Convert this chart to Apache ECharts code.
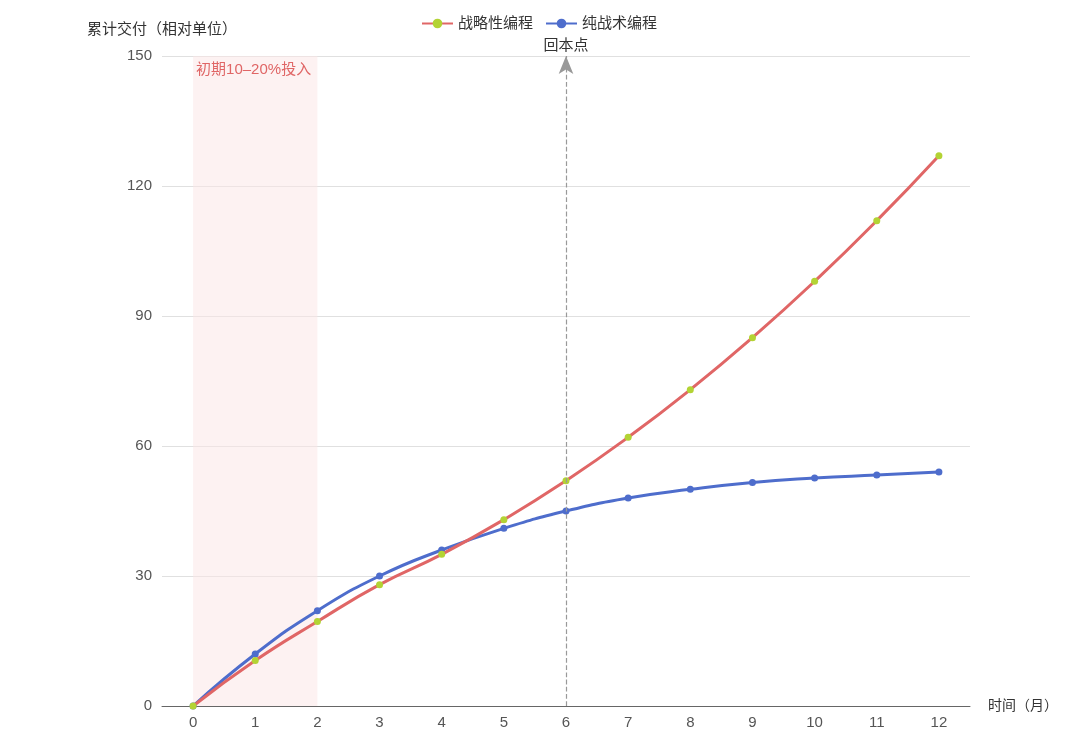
<!DOCTYPE html>
<html>
<head>
<meta charset="utf-8">
<script src="https://cdn.jsdelivr.net/npm/echarts@6/dist/echarts.min.js"></script>
<style>html,body{margin:0;padding:0;background:#fff;}#main{width:1078px;height:754px;}</style>
</head>
<body>
<div id="main"></div>
<script>
const months = ['0','1','2','3','4','5','6','7','8','9','10','11','12'];
const strategic = [0, 10.5, 19.5, 28, 35, 43, 52, 62, 73, 85, 98, 112, 127];
const tactical = [0, 12, 22, 30, 36, 41, 45, 48, 50, 51.6, 52.6, 53.3, 54];
const seriesNames = ['战略性编程', '纯战术编程'];
const yTicks = { min: 0, max: 150, interval: 30 };
const breakEvenMonth = '6';
const investStart = '0', investEnd = '2';

const FONT = '"Liberation Sans", "Noto Sans CJK SC", sans-serif';
const chart = echarts.init(document.getElementById('main'));
chart.setOption({
  animation: false,
  textStyle: { fontFamily: FONT },
  legend: {
    top: 11, left: 'center',
    itemGap: 12,
    itemWidth: 31,
    itemHeight: 12,
    textStyle: { fontSize: 15, color: '#333', fontFamily: FONT },
    data: seriesNames
  },
  grid: { left: 162, right: 108, top: 56, bottom: 48 },
  xAxis: {
    type: 'category',
    data: months,
    boundaryGap: true,
    name: '时间（月）',
    nameGap: 18,
    nameTextStyle: { fontSize: 14, color: '#333', fontFamily: FONT },
    axisLine: { lineStyle: { color: '#666' } },
    axisTick: { show: false },
    axisLabel: { fontSize: 15, color: '#555', margin: 9, fontFamily: FONT }
  },
  yAxis: {
    type: 'value',
    min: yTicks.min, max: yTicks.max, interval: yTicks.interval,
    name: '累计交付（相对单位）',
    nameGap: 19,
    nameTextStyle: { fontSize: 15, color: '#333', fontFamily: FONT },
    axisLine: { show: false },
    axisTick: { show: false },
    axisLabel: { fontSize: 15, color: '#555', margin: 10, fontFamily: FONT },
    splitLine: { lineStyle: { color: '#e0e0e0' } }
  },
  series: [
    {
      name: seriesNames[0],
      type: 'line',
      smooth: true,
      data: strategic,
      symbol: 'circle',
      symbolSize: 7,
      lineStyle: { color: '#e06666', width: 3 },
      itemStyle: { color: '#b3d334' },
      z: 3,
      markArea: {
        silent: true,
        itemStyle: { color: 'rgba(252,230,230,0.5)' },
        label: {
          show: true, position: 'insideTopLeft',
          color: '#e06666', fontSize: 15, fontFamily: FONT,
          distance: 3, offset: [0, 3]
        },
        data: [[{ xAxis: investStart, name: '初期10–20%投入' }, { xAxis: investEnd }]]
      },
      markLine: {
        silent: true,
        symbol: ['none', 'arrow'],
        symbolSize: [11, 18],
        lineStyle: { color: '#999', type: 'dashed', width: 1.2 },
        label: {
          show: true, position: 'end', formatter: '回本点',
          color: '#333', fontSize: 15, fontFamily: FONT, distance: 3
        },
        data: [{ xAxis: breakEvenMonth }]
      }
    },
    {
      name: seriesNames[1],
      type: 'line',
      smooth: true,
      data: tactical,
      symbol: 'circle',
      symbolSize: 7,
      lineStyle: { color: '#4e6dcc', width: 3 },
      itemStyle: { color: '#4e6dcc' },
      z: 2
    }
  ]
});
</script>
</body>
</html>
